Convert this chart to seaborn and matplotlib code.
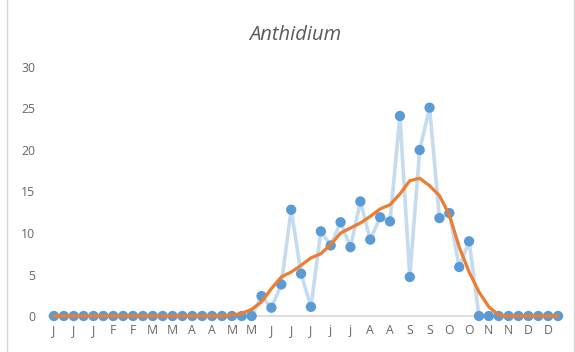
import numpy as np
import pandas as pd
import matplotlib
matplotlib.use('Agg')
import matplotlib.pyplot as plt
import seaborn as sns
from matplotlib.patches import Rectangle

# weekly counts, 52 weeks
counts = [0, 0, 0, 0, 0, 0, 0, 0, 0, 0,
          0, 0, 0, 0, 0, 0, 0, 0, 0, 0,
          0, 2.4, 1.0, 3.8, 12.8, 5.1, 1.1, 10.2, 8.5, 11.3,
          8.3, 13.8, 9.2, 11.9, 11.4, 24.1, 4.7, 20.0, 25.1, 11.8,
          12.4, 5.9, 9.0, 0, 0, 0, 0, 0, 0, 0,
          0, 0]
# smoothed trend
trend = [0, 0, 0, 0, 0, 0, 0, 0, 0, 0,
         0, 0, 0, 0, 0, 0, 0, 0, 0.1, 0.3,
         0.8, 1.7, 3.3, 4.7, 5.3, 6.1, 7.0, 7.5, 8.6, 10.0,
         10.6, 11.2, 12.0, 12.9, 13.4, 14.7, 16.3, 16.6, 15.7, 14.5,
         12.2, 8.3, 5.3, 2.9, 1.1, 0.1, 0, 0, 0, 0,
         0, 0]
tick_labels = ['J', 'J', 'J', 'F', 'F', 'M', 'M', 'A', 'A', 'M', 'M', 'J', 'J',
               'J', 'j', 'j', 'A', 'A', 'S', 'S', 'O', 'O', 'N', 'N', 'D', 'D']

df = pd.DataFrame({'week': np.arange(len(counts)), 'count': counts, 'trend': trend})

sns.set_style('white')
plt.rcParams['font.family'] = ['Open Sans', 'DejaVu Sans']

fig = plt.figure(figsize=(5.75, 3.52), dpi=100)
ax = fig.add_axes([49/575, 36/352, 514/575, 249/352])

sns.lineplot(data=df, x='week', y='count', ax=ax, color='#c5dcf0', linewidth=2.6, zorder=2, clip_on=False)
sns.scatterplot(data=df, x='week', y='count', ax=ax, color='#5b9bd5', s=55, edgecolor='none', zorder=3, clip_on=False)
sns.lineplot(data=df, x='week', y='trend', ax=ax, color='#ed7d31', linewidth=2.3, zorder=4, clip_on=False)

ax.set_xlim(-0.5, len(counts) - 0.5)
ax.set_ylim(0, 30)
ax.set_yticks(range(0, 31, 5))
ax.set_xticks(range(0, 52, 2))
ax.set_xticklabels(tick_labels)
ax.set_xlabel('')
ax.set_ylabel('')
ax.tick_params(axis='both', length=0, labelsize=8.8, colors='#666666')
ax.tick_params(axis='x', pad=6)
ax.tick_params(axis='y', pad=10)
for s in ['top', 'right', 'left']:
    ax.spines[s].set_visible(False)
ax.spines['bottom'].set_color('#d9d9d9')
ax.spines['bottom'].set_linewidth(1.2)
ax.spines['bottom'].set_zorder(1)

fig.text(295/575, 1 - 35/352, 'Anthidium', ha='center', va='center',
         fontsize=14.5, style='italic', color='#595959')

fig.patches.append(Rectangle((7/575, -0.01), 567/575, 1.05, transform=fig.transFigure,
                             fill=False, edgecolor='#d9d9d9', linewidth=1))

fig.savefig('out.png', dpi=100)
